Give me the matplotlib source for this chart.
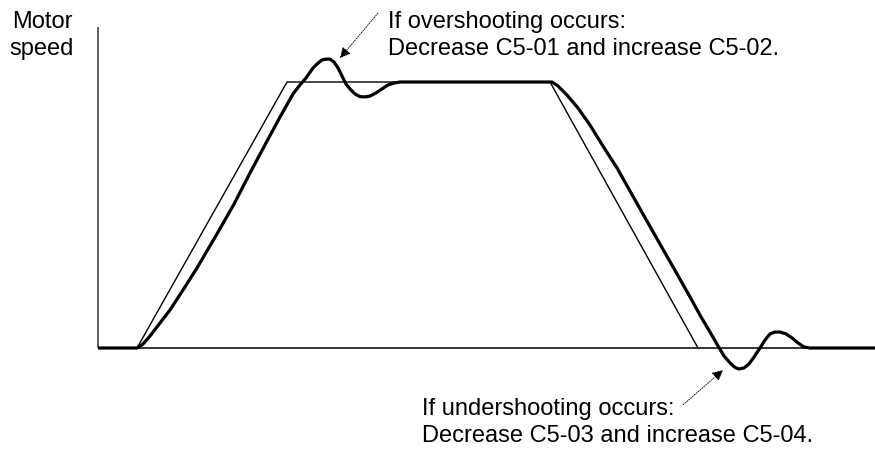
import matplotlib
matplotlib.use("Agg")
import matplotlib.pyplot as plt

plt.rcParams['font.family'] = ['Liberation Sans', 'DejaVu Sans']

# speed reference (accel / run / decel), speed in % of set speed
ref_time = [0.39, 1.89, 4.52, 6.00]
ref_speed = [0, 100, 100, 0]

# actual motor speed response
motor_time = [0.00, 0.39, 0.45, 0.52, 0.62, 0.72, 0.85, 0.99, 1.19, 1.36,
              1.52, 1.69, 1.82, 1.95, 2.02, 2.08, 2.15, 2.20, 2.24, 2.28,
              2.32, 2.36, 2.40, 2.44, 2.48, 2.52, 2.57, 2.62, 2.67, 2.72,
              2.78, 2.84, 2.90, 2.96, 3.02,
              4.54, 4.60, 4.69, 4.80, 4.92, 5.05, 5.19, 5.41, 5.58, 5.75,
              5.92, 6.03, 6.12, 6.20, 6.26, 6.32, 6.37, 6.41, 6.46, 6.51,
              6.56, 6.62, 6.67, 6.72, 6.77, 6.82, 6.88, 6.94, 7.00, 7.06,
              7.12, 7.77]
motor_speed = [0, 0, 1.5, 4.5, 9.4, 14.3, 21.8, 30.1, 42.9, 54.1,
               65.8, 77.8, 86.8, 95.5, 98.9, 101.5, 105.3, 107.1, 108.3, 108.6,
               108.6, 107.5, 105.3, 102.3, 99.2, 97.4, 95.5, 94.5, 94.4, 94.7,
               95.9, 97.4, 98.9, 99.6, 100,
               100, 98.5, 95.1, 90.2, 83.8, 75.9, 67.7, 53.0, 41.7, 30.5,
               19.2, 11.7, 6.0, 0.8, -3.0, -5.6, -7.3, -7.9, -7.5, -6.0,
               -3.4, 0, 3.0, 5.3, 6.0, 6.0, 5.3, 3.8, 1.9, 0.4,
               0, 0]

t_end = 7.77
v_axis_top = 120.7

over_text = ["If overshooting occurs:", "Decrease C5-01 and increase C5-02."]
under_text = ["If undershooting occurs:", "Decrease C5-03 and increase C5-04."]
ylabel_text = ["Motor", "speed"]

fig = plt.figure(figsize=(8.75, 4.49), dpi=100)
ax = fig.add_axes([0, 0, 1, 1])
ax.set_xlim(-0.98, t_end)
ax.set_ylim(-37.97, 130.83)
ax.axis('off')

# axes drawn by hand
ax.plot([0, 0], [0, v_axis_top], color='#333333', lw=1.1, solid_capstyle='butt')
ax.plot([0, t_end], [0, 0], color='black', lw=1.1, solid_capstyle='butt')

ax.plot(ref_time, ref_speed, color='black', lw=1.0, solid_joinstyle='miter')
ax.plot(motor_time, motor_speed, color='black', lw=2.3,
        solid_joinstyle='round', solid_capstyle='butt')

fs = 17
for i, line in enumerate(ylabel_text):
    ax.text(-0.56, [120.3, 110.2][i], line, ha='center', va='baseline', fontsize=fs)
for i, line in enumerate(over_text):
    ax.text(2.90, [120.3, 110.2][i], line, ha='left', va='baseline', fontsize=fs)
for i, line in enumerate(under_text):
    ax.text(3.24, [-25.2, -35.3][i], line, ha='left', va='baseline', fontsize=fs)

arrow = dict(arrowstyle='-|>', linestyle=(0, (1.5, 1.5)), lw=0.6,
             color='black', mutation_scale=16, shrinkA=0, shrinkB=0)
ax.annotate('', xy=(2.42, 109.0), xytext=(2.80, 125.9), arrowprops=arrow)
ax.annotate('', xy=(6.25, -8.3), xytext=(5.85, -21.4), arrowprops=arrow)

fig.savefig('out.png', dpi=100)
